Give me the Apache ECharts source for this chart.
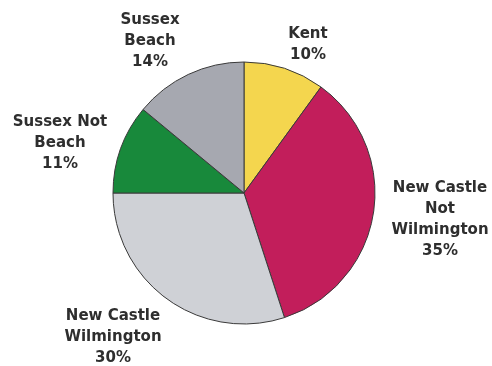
<!DOCTYPE html>
<html>
<head>
<meta charset="utf-8">
<script src="https://cdn.jsdelivr.net/npm/echarts@6/dist/echarts.min.js"></script>
<style>
html,body{margin:0;padding:0;background:#fff;}
#chart{width:492px;height:366px;}
</style>
</head>
<body>
<div id="chart"></div>
<script>
const categories = ["Kent", "New Castle\nNot\nWilmington", "New Castle\nWilmington", "Sussex Not\nBeach", "Sussex\nBeach"];
const values = [10, 35, 30, 11, 14];
const colors = ["#f4d64e", "#c21e5b", "#cfd1d6", "#18893b", "#a6a8b0"];
// label block centres (layout only)
const labelCenters = [[308, 45], [440, 220], [113, 337], [60, 143], [150, 41]];

const chart = echarts.init(document.getElementById('chart'), null, {renderer: 'canvas'});
chart.setOption({
  animation: false,
  backgroundColor: '#ffffff',
  series: [{
    type: 'pie',
    center: [244, 193],
    radius: [0, 131],
    startAngle: 90,
    clockwise: true,
    avoidLabelOverlap: false,
    data: categories.map((c, i) => ({
      name: c,
      value: values[i],
      itemStyle: {color: colors[i]}
    })),
    itemStyle: {borderColor: '#3a3a3a', borderWidth: 1},
    label: {
      show: true,
      position: 'outside',
      formatter: p => p.name + '\n' + p.value + '%',
      fontFamily: 'DejaVu Sans',
      fontWeight: 'bold',
      fontSize: 15,
      lineHeight: 21,
      color: '#2e2e2e',
      align: 'center'
    },
    labelLine: {show: false},
    labelLayout: function (params) {
      const c = labelCenters[params.dataIndex];
      return {
        x: c[0],
        y: c[1],
        align: 'center',
        verticalAlign: 'middle'
      };
    },
    emphasis: {disabled: true}
  }]
});
</script>
</body>
</html>
